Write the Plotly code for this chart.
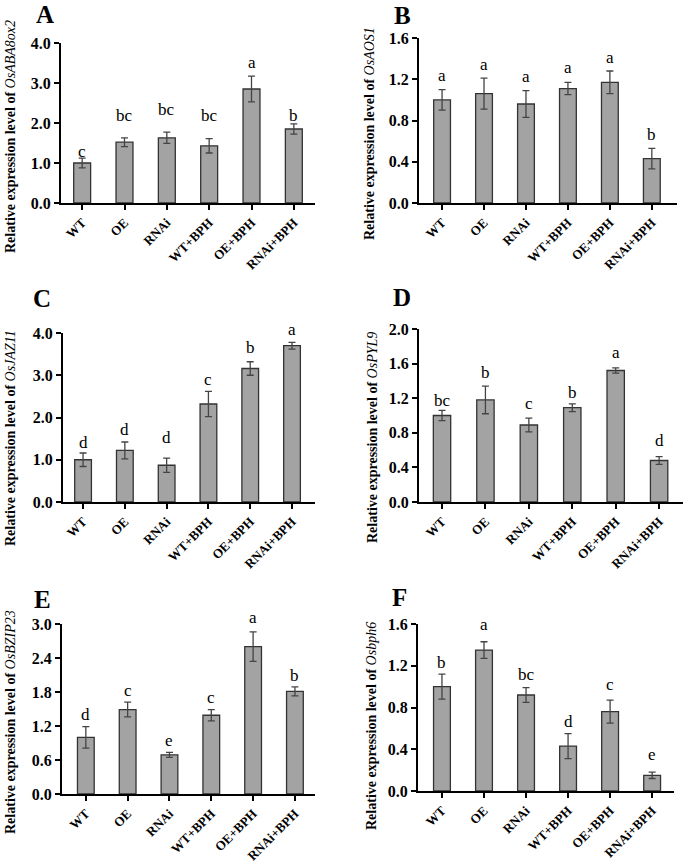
import plotly.graph_objects as go

# groups on the x axis
categories = ['WT', 'OE', 'RNAi', 'WT+BPH', 'OE+BPH', 'RNAi+BPH']

# panel A - OsABA8ox2
abaox_mean = [1.00, 1.52, 1.63, 1.43, 2.85, 1.85]
abaox_err = [0.12, 0.11, 0.14, 0.18, 0.32, 0.13]
abaox_letters = ['c', 'bc', 'bc', 'bc', 'a', 'b']
abaox_letter_y = [1.11, 2.00, 2.15, 2.00, 3.33, 2.00]

# panel B - OsAOS1
aos_mean = [1.00, 1.06, 0.96, 1.11, 1.17, 0.43]
aos_err = [0.10, 0.15, 0.13, 0.06, 0.11, 0.10]
aos_letters = ['a', 'a', 'a', 'a', 'a', 'b']
aos_letter_y = [1.164, 1.267, 1.154, 1.244, 1.341, 0.588]

# panel C - OsJAZ11
jaz_mean = [1.00, 1.22, 0.87, 2.32, 3.16, 3.70]
jaz_err = [0.16, 0.20, 0.17, 0.30, 0.16, 0.08]
jaz_letters = ['d', 'd', 'd', 'c', 'b', 'a']
jaz_letter_y = [1.23, 1.545, 1.36, 2.73, 3.485, 3.90]

# panel D - OsPYL9
pyl_mean = [1.00, 1.18, 0.89, 1.09, 1.52, 0.48]
pyl_err = [0.06, 0.16, 0.08, 0.045, 0.03, 0.045]
pyl_letters = ['bc', 'b', 'c', 'b', 'a', 'd']
pyl_letter_y = [1.087, 1.414, 1.048, 1.183, 1.645, 0.624]

# panel E - OsBZIP23
bzip_mean = [1.00, 1.49, 0.69, 1.39, 2.60, 1.81]
bzip_err = [0.19, 0.13, 0.045, 0.10, 0.26, 0.08]
bzip_letters = ['d', 'c', 'e', 'c', 'a', 'b']
bzip_letter_y = [1.279, 1.691, 0.807, 1.573, 2.988, 1.956]

# panel F - Osbph6
bph_mean = [1.00, 1.35, 0.92, 0.43, 0.76, 0.15]
bph_err = [0.12, 0.08, 0.07, 0.12, 0.11, 0.03]
bph_letters = ['b', 'a', 'bc', 'd', 'c', 'e']
bph_letter_y = [1.158, 1.526, 1.046, 0.598, 0.944, 0.278]

W, H = 685, 864
FONT = 'Liberation Serif'


# page pixel -> paper fraction
def fx(px):
    return px / W


def fy(px):
    return 1 - px / H


# label, gene, data, y max, dtick, x domain (px), x range, y domain (px from top), title centre, label pos
panels = [
    ('A', 'OsABA8ox2', abaox_mean, abaox_err, abaox_letters, abaox_letter_y, 4.0, 1.0,
     (61, 315), (-0.5, 5.5), (43, 203), (10, 137), (45, 14)),
    ('B', 'OsAOS1', aos_mean, aos_err, aos_letters, aos_letter_y, 1.6, 0.4,
     (419, 677), (-0.55, 5.6), (38, 203), (370, 134), (402, 15)),
    ('C', 'OsJAZ11', jaz_mean, jaz_err, jaz_letters, jaz_letter_y, 4.0, 1.0,
     (63, 315), (-0.48, 5.55), (333, 502), (10, 438), (42, 298)),
    ('D', 'OsPYL9', pyl_mean, pyl_err, pyl_letters, pyl_letter_y, 2.0, 0.4,
     (419, 683), (-0.53, 5.55), (329, 502), (372, 438), (402, 297)),
    ('E', 'OsBZIP23', bzip_mean, bzip_err, bzip_letters, bzip_letter_y, 3.0, 0.6,
     (62, 315), (-0.57, 5.48), (624, 794), (10, 722), (42, 599)),
    ('F', 'Osbph6', bph_mean, bph_err, bph_letters, bph_letter_y, 1.6, 0.4,
     (418, 674), (-0.57, 5.52), (624, 791), (371, 726), (400, 597)),
]

fig = go.Figure()
annotations = []

for i, (lab, gene, mean, err, letters, letter_y, ymax, dtick, xd, xr, yd, tpos, lpos) in enumerate(panels):
    n = '' if i == 0 else str(i + 1)
    xa, ya = 'x' + n, 'y' + n

    fig.add_trace(go.Bar(
        x=categories, y=mean, xaxis=xa, yaxis=ya, width=0.4,
        marker=dict(color='#a3a3a3', line=dict(color='#333333', width=1.3)),
        error_y=dict(type='data', array=err, color='#444444', thickness=1.3, width=3.5),
        showlegend=False,
    ))

    fig.update_layout({
        'xaxis' + n: dict(
            domain=[fx(xd[0]), fx(xd[1])], range=list(xr), anchor=ya, automargin=False,
            showline=True, linecolor='black', linewidth=2,
            ticks='outside', ticklen=5, tickwidth=1.5, tickcolor='black',
            tickangle=-45, tickfont=dict(family=FONT, size=13, color='black', weight='bold'),
            showgrid=False, zeroline=False, fixedrange=True,
        ),
        'yaxis' + n: dict(
            domain=[fy(yd[1]), fy(yd[0])], range=[0, ymax], anchor=xa, automargin=False,
            dtick=dtick, tick0=0, tickformat='.1f',
            showline=True, linecolor='black', linewidth=2,
            ticks='outside', ticklen=5, tickwidth=1.5, tickcolor='black',
            tickfont=dict(family=FONT, size=16, color='black', weight='bold'),
            showgrid=False, zeroline=False, fixedrange=True,
        ),
    })

    # significance letters above the bars
    for c, t, ly in zip(categories, letters, letter_y):
        annotations.append(dict(
            x=c, y=ly, xref=xa, yref=ya, text=t, showarrow=False,
            xanchor='center', yanchor='bottom', yshift=-4,
            font=dict(family=FONT, size=17, color='black'),
        ))

    # y axis title
    annotations.append(dict(
        x=fx(tpos[0]), y=fy(tpos[1]), xref='paper', yref='paper',
        text='<b>Relative expression level of </b><i>' + gene + '</i>',
        textangle=-90, showarrow=False, xanchor='center', yanchor='middle',
        font=dict(family=FONT, size=14, color='black'),
    ))

    # panel letter
    annotations.append(dict(
        x=fx(lpos[0]), y=fy(lpos[1]), xref='paper', yref='paper',
        text='<b>' + lab + '</b>', showarrow=False, xanchor='center', yanchor='middle',
        font=dict(family=FONT, size=25, color='black'),
    ))

fig.update_layout(
    width=W, height=H,
    margin=dict(l=0, r=0, t=0, b=0, autoexpand=False),
    paper_bgcolor='white', plot_bgcolor='white',
    annotations=annotations,
)

# drop the default page margin so the figure fills the window exactly
fig.write_html('out.html', config={'displayModeBar': False},
               post_script="document.body.style.margin='0px';")
